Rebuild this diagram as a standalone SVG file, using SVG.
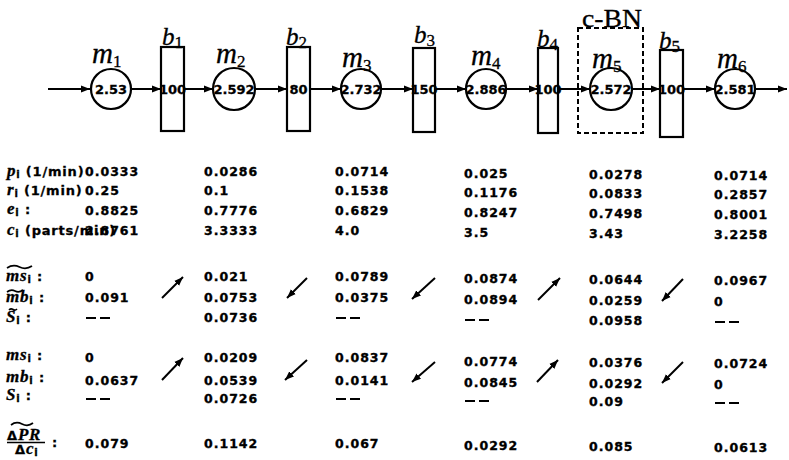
<svg xmlns="http://www.w3.org/2000/svg" width="789" height="460" viewBox="0 0 789 460">
<style>
.ln{stroke:#000;stroke-width:2;fill:none}
.nd{stroke:#000;stroke-width:2.2;fill:#fff}
.cbn{stroke:#000;stroke-width:2;fill:none;stroke-dasharray:5,3}
.nv{font-family:"DejaVu Sans",sans-serif;font-weight:bold;font-size:13px;text-anchor:middle;fill:#000;stroke:#000;stroke-width:0.3}
.mt{font-family:"Liberation Serif",serif;font-style:italic;font-size:29px;fill:#000;stroke:#000;stroke-width:0.3}
.bt{font-family:"Liberation Serif",serif;font-style:italic;font-size:25px;fill:#000;stroke:#000;stroke-width:0.3}
.sb{font-size:17px;font-style:normal}
.num{font-family:"DejaVu Sans",sans-serif;font-weight:bold;font-size:12.5px;letter-spacing:1px;fill:#000;stroke:#000;stroke-width:0.35}
.lb{font-family:"DejaVu Sans",sans-serif;font-weight:bold;font-size:13px;letter-spacing:0.8px;fill:#000;stroke:#000;stroke-width:0.3}
.li{font-family:"Liberation Serif",serif;font-weight:bold;font-style:italic;font-size:17px}
.ls{font-size:10px}
.tl{stroke:#000;stroke-width:1.7;fill:none}
.da{stroke:#000;stroke-width:2;fill:none}
</style>
<defs>
<marker id="ah" markerUnits="userSpaceOnUse" markerWidth="10" markerHeight="8" refX="9" refY="4" orient="auto">
<path d="M0,0.5 L9,4 L0,7.5 z" fill="#000"/>
</marker>
</defs>

<g id="connectors">
<line class="ln" x1="48" y1="89" x2="90" y2="89" marker-end="url(#ah)"/>
<line class="ln" x1="131" y1="89" x2="161" y2="89" marker-end="url(#ah)"/>
<line class="ln" x1="184" y1="89" x2="213" y2="89" marker-end="url(#ah)"/>
<line class="ln" x1="255" y1="89" x2="287" y2="89" marker-end="url(#ah)"/>
<line class="ln" x1="310" y1="89" x2="341" y2="89" marker-end="url(#ah)"/>
<line class="ln" x1="381" y1="89" x2="413" y2="89" marker-end="url(#ah)"/>
<line class="ln" x1="435" y1="89" x2="466" y2="89" marker-end="url(#ah)"/>
<line class="ln" x1="506" y1="89" x2="538" y2="89" marker-end="url(#ah)"/>
<line class="ln" x1="558" y1="89" x2="590" y2="89" marker-end="url(#ah)"/>
<line class="ln" x1="632" y1="89" x2="660" y2="89" marker-end="url(#ah)"/>
<line class="ln" x1="683" y1="89" x2="715" y2="89" marker-end="url(#ah)"/>
<line class="ln" x1="755" y1="89" x2="787" y2="89" marker-end="url(#ah)"/>
</g>

<g id="cbn">
<rect class="cbn" x="578" y="28" width="65" height="105"/>
<text x="582" y="27" font-family="Liberation Serif, serif" font-size="25" stroke="#000" stroke-width="0.3" textLength="60" lengthAdjust="spacingAndGlyphs">c-BN</text>
</g>

<g id="m1"><circle class="nd" cx="111" cy="89" r="20"/><text class="nv" x="111" y="93.5">2.53</text><text class="mt" x="92" y="63">m<tspan class="sb" dy="4">1</tspan></text></g>
<g id="b1"><rect class="nd" x="161" y="47" width="23" height="84"/><text class="nv" x="172.5" y="93.5">100</text><text class="bt" x="162" y="45">b<tspan class="sb" dy="3">1</tspan></text></g>
<g id="m2"><circle class="nd" cx="234" cy="89" r="21"/><text class="nv" x="234" y="93.5">2.592</text><text class="mt" x="216" y="63">m<tspan class="sb" dy="4">2</tspan></text></g>
<g id="b2"><rect class="nd" x="287" y="47" width="23" height="84"/><text class="nv" x="298.5" y="93.5">80</text><text class="bt" x="286" y="45">b<tspan class="sb" dy="3">2</tspan></text></g>
<g id="m3"><circle class="nd" cx="361" cy="89" r="20"/><text class="nv" x="361" y="93.5">2.732</text><text class="mt" x="342" y="67">m<tspan class="sb" dy="4">3</tspan></text></g>
<g id="b3"><rect class="nd" x="413" y="48" width="22" height="84"/><text class="nv" x="424" y="93.5">150</text><text class="bt" x="414" y="43">b<tspan class="sb" dy="3">3</tspan></text></g>
<g id="m4"><circle class="nd" cx="486" cy="89" r="20"/><text class="nv" x="486" y="93.5">2.886</text><text class="mt" x="471" y="65">m<tspan class="sb" dy="4">4</tspan></text></g>
<g id="b4"><rect class="nd" x="538" y="48" width="20" height="85"/><text class="nv" x="548" y="93.5">100</text><text class="bt" x="537" y="47">b<tspan class="sb" dy="3">4</tspan></text></g>
<g id="m5"><circle class="nd" cx="611" cy="89" r="21"/><text class="nv" x="611" y="93.5">2.572</text><text class="mt" x="592" y="68">m<tspan class="sb" dy="4">5</tspan></text></g>
<g id="b5"><rect class="nd" x="660" y="50" width="23" height="87"/><text class="nv" x="671.5" y="93.5">100</text><text class="bt" x="659" y="49">b<tspan class="sb" dy="3">5</tspan></text></g>
<g id="m6"><circle class="nd" cx="735" cy="89" r="20"/><text class="nv" x="735" y="93.5">2.581</text><text class="mt" x="717" y="68">m<tspan class="sb" dy="4">6</tspan></text></g>

<g id="labels">
<text class="lb" x="7" y="176"><tspan class="li" font-size="16">p</tspan><tspan class="ls" dy="2">i</tspan><tspan dy="-2"> (1/min)</tspan></text>
<text class="lb" x="7" y="195"><tspan class="li" font-size="16">r</tspan><tspan class="ls" dy="2">i</tspan><tspan dy="-2"> (1/min)</tspan></text>
<text class="lb" x="7" y="214"><tspan class="li" font-size="16">e</tspan><tspan class="ls" dy="2">i</tspan><tspan dy="-2"> :</tspan></text>
<text class="lb" x="7" y="235"><tspan class="li" font-size="16">c</tspan><tspan class="ls" dy="2">i</tspan><tspan dy="-2"> (parts/min)</tspan></text>

<path class="tl" d="M7,268 q6,-4 12.5,-1 t12.5,-1"/>
<text class="lb" x="6" y="281"><tspan class="li">ms</tspan><tspan class="ls" dy="2">i</tspan><tspan dy="-2"> :</tspan></text>
<path class="tl" d="M7,292 q4,-3 8,-1 t8,-1"/>
<text class="lb" x="6" y="302"><tspan class="li">mb</tspan><tspan class="ls" dy="2">i</tspan><tspan dy="-2"> :</tspan></text>
<path class="tl" d="M9,310 q2,-2 4,-0.5 t4,-0.5"/>
<text class="lb" x="6" y="322"><tspan class="li">S</tspan><tspan class="ls" dy="2">i</tspan><tspan dy="-2"> :</tspan></text>

<text class="lb" x="6" y="360"><tspan class="li">ms</tspan><tspan class="ls" dy="2">i</tspan><tspan dy="-2"> :</tspan></text>
<text class="lb" x="6" y="382"><tspan class="li">mb</tspan><tspan class="ls" dy="2">i</tspan><tspan dy="-2"> :</tspan></text>
<text class="lb" x="6" y="400"><tspan class="li">S</tspan><tspan class="ls" dy="2">i</tspan><tspan dy="-2"> :</tspan></text>

<path class="tl" d="M11,425 q5,-4 11,-1 t11,-1"/>
<text class="lb" x="7" y="440" font-size="11">Δ<tspan class="li" font-size="13">PR</tspan></text>
<line x1="7" y1="442.5" x2="45" y2="442.5" stroke="#000" stroke-width="1.4"/>
<text class="lb" x="15" y="454" font-size="11">Δ<tspan class="li" font-size="13">c</tspan><tspan class="ls" font-size="8" dy="2">i</tspan></text>
<text class="lb" x="52" y="447">:</text>
</g>

<g id="values" class="num">
<text x="85" y="176">0.0333</text><text x="204" y="176">0.0286</text><text x="335" y="176">0.0714</text><text x="464" y="178">0.025</text><text x="589" y="179">0.0278</text><text x="714" y="180">0.0714</text>
<text x="85" y="195">0.25</text><text x="204" y="195">0.1</text><text x="335" y="195">0.1538</text><text x="464" y="197">0.1176</text><text x="589" y="198">0.0833</text><text x="714" y="199">0.2857</text>
<text x="85" y="215">0.8825</text><text x="204" y="215">0.7776</text><text x="335" y="215">0.6829</text><text x="464" y="217">0.8247</text><text x="589" y="218">0.7498</text><text x="714" y="219">0.8001</text>
<text x="85" y="235">2.8761</text><text x="204" y="235">3.3333</text><text x="335" y="235">4.0</text><text x="464" y="237">3.5</text><text x="589" y="238">3.43</text><text x="714" y="239">3.2258</text>

<text x="85" y="281">0</text><text x="204" y="281">0.021</text><text x="335" y="281">0.0789</text><text x="464" y="283">0.0874</text><text x="589" y="284">0.0644</text><text x="714" y="285">0.0967</text>
<text x="85" y="302">0.091</text><text x="204" y="302">0.0753</text><text x="335" y="302">0.0375</text><text x="464" y="304">0.0894</text><text x="589" y="305">0.0259</text><text x="714" y="306">0</text>
<text x="204" y="322">0.0736</text><text x="589" y="325">0.0958</text>

<text x="85" y="362">0</text><text x="204" y="362">0.0209</text><text x="335" y="362">0.0837</text><text x="464" y="366">0.0774</text><text x="589" y="367">0.0376</text><text x="714" y="368">0.0724</text>
<text x="85" y="385">0.0637</text><text x="204" y="385">0.0539</text><text x="335" y="385">0.0141</text><text x="464" y="387">0.0845</text><text x="589" y="388">0.0292</text><text x="714" y="389">0</text>
<text x="204" y="403">0.0726</text><text x="589" y="406">0.09</text>

<text x="85" y="448">0.079</text><text x="204" y="448">0.1142</text><text x="335" y="448">0.067</text><text x="464" y="450">0.0292</text><text x="589" y="451">0.085</text><text x="714" y="452">0.0613</text>
</g>

<g id="dashes" class="da">
<path d="M86,318 h10 M100,318 h10"/><path d="M336,318 h10 M350,318 h10"/><path d="M465,320 h10 M479,320 h10"/><path d="M715,322 h10 M729,322 h10"/>
<path d="M86,399 h10 M100,399 h10"/><path d="M336,399 h10 M350,399 h10"/><path d="M465,401 h10 M479,401 h10"/><path d="M715,403 h10 M729,403 h10"/>
</g>

<g id="trend-arrows">
<line class="ln" x1="162" y1="298" x2="183" y2="277" marker-end="url(#ah)"/>
<line class="ln" x1="307" y1="278" x2="287" y2="298" marker-end="url(#ah)"/>
<line class="ln" x1="435" y1="278" x2="412" y2="299" marker-end="url(#ah)"/>
<line class="ln" x1="538" y1="300" x2="560" y2="278" marker-end="url(#ah)"/>
<line class="ln" x1="683" y1="279" x2="662" y2="301" marker-end="url(#ah)"/>
<line class="ln" x1="162" y1="380" x2="183" y2="358" marker-end="url(#ah)"/>
<line class="ln" x1="307" y1="360" x2="285" y2="380" marker-end="url(#ah)"/>
<line class="ln" x1="435" y1="362" x2="412" y2="382" marker-end="url(#ah)"/>
<line class="ln" x1="537" y1="382" x2="558" y2="360" marker-end="url(#ah)"/>
<line class="ln" x1="683" y1="362" x2="662" y2="383" marker-end="url(#ah)"/>
</g>
</svg>
